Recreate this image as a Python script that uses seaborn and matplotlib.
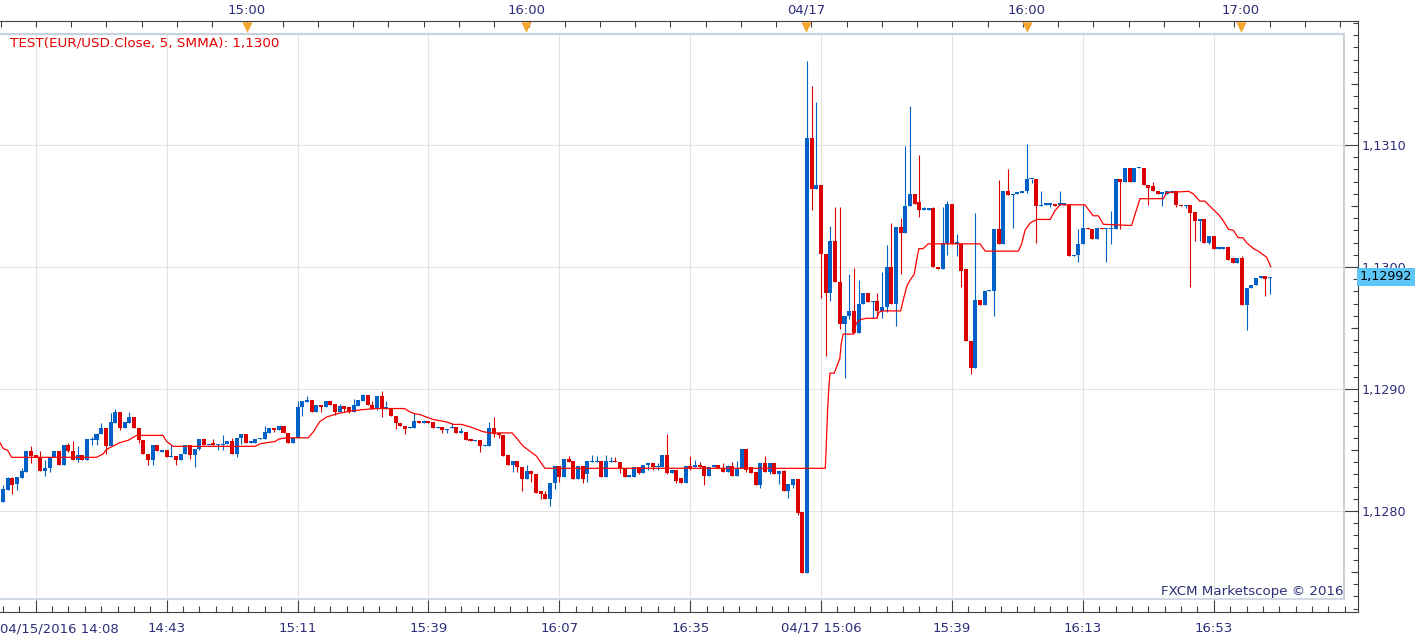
import numpy as np
import matplotlib
matplotlib.use("Agg")
import matplotlib.pyplot as plt
import matplotlib.transforms as mtransforms
import seaborn as sns

# ---- data (EUR/USD 1-minute bars) ----
opens = [
    1.12807, 1.12817, 1.12827, 1.12822, 1.12827, 1.12832, 1.12849, 1.12846, 1.12844, 1.12833,
    1.12835, 1.12844, 1.12849, 1.12838, 1.12854, 1.12849, 1.12842, 1.12846, 1.12842, 1.12858,
    1.12858, 1.12863, 1.12868, 1.12853, 1.12872, 1.12881, 1.12868, 1.12872, 1.12877, 1.12868,
    1.12858, 1.12847, 1.12842, 1.12854, 1.12848, 1.12850, 1.12844, 1.12845, 1.12842, 1.12847,
    1.12854, 1.12846, 1.12851, 1.12859, 1.12854, 1.12856, 1.12854, 1.12854, 1.12855, 1.12857,
    1.12847, 1.12860, 1.12863, 1.12856, 1.12856, 1.12859, 1.12859, 1.12864, 1.12868, 1.12866,
    1.12870, 1.12864, 1.12856, 1.12860, 1.12885, 1.12889, 1.12891, 1.12881, 1.12887, 1.12885,
    1.12890, 1.12888, 1.12881, 1.12886, 1.12885, 1.12881, 1.12886, 1.12890, 1.12895, 1.12887,
    1.12884, 1.12894, 1.12884, 1.12884, 1.12878, 1.12872, 1.12870, 1.12868, 1.12868, 1.12874,
    1.12872, 1.12874, 1.12873, 1.12868, 1.12869, 1.12866, 1.12868, 1.12869, 1.12864, 1.12865,
    1.12859, 1.12857, 1.12858, 1.12853, 1.12853, 1.12868, 1.12864, 1.12862, 1.12846, 1.12838,
    1.12841, 1.12836, 1.12826, 1.12833, 1.12830, 1.12816, 1.12814, 1.12810, 1.12823, 1.12837,
    1.12828, 1.12843, 1.12841, 1.12826, 1.12837, 1.12830, 1.12840, 1.12840, 1.12841, 1.12828,
    1.12840, 1.12841, 1.12840, 1.12835, 1.12828, 1.12828, 1.12836, 1.12831, 1.12838, 1.12839,
    1.12836, 1.12836, 1.12846, 1.12831, 1.12834, 1.12827, 1.12823, 1.12837, 1.12836, 1.12838,
    1.12837, 1.12829, 1.12836, 1.12838, 1.12835, 1.12832, 1.12837, 1.12829, 1.12835, 1.12851,
    1.12836, 1.12832, 1.12821, 1.12839, 1.12832, 1.12839, 1.12830, 1.12833, 1.12816, 1.12821,
    1.12826, 1.12799, 1.12749, 1.13106, 1.13064, 1.13067, 1.13011, 1.12979, 1.13021, 1.12988,
    1.12953, 1.12960, 1.12964, 1.12946, 1.12970, 1.12979, 1.12971, 1.12972, 1.12964, 1.12967,
    1.13000, 1.12970, 1.13033, 1.13028, 1.13050, 1.13060, 1.13053, 1.13047, 1.13047, 1.13048,
    1.13000, 1.12998, 1.13020, 1.13052, 1.13019, 1.13019, 1.12998, 1.12939, 1.12917, 1.12973,
    1.12969, 1.12980, 1.12980, 1.13031, 1.13019, 1.13062, 1.13059, 1.13060, 1.13061, 1.13062,
    1.13072, 1.13072, 1.13050, 1.13051, 1.13051, 1.13052, 1.13051, 1.13051, 1.13051, 1.13009,
    1.13010, 1.13019, 1.13032, 1.13031, 1.13023, 1.13032, 1.13031, 1.13031, 1.13031, 1.13072,
    1.13070, 1.13081, 1.13070, 1.13081, 1.13081, 1.13067, 1.13066, 1.13062, 1.13060, 1.13060,
    1.13061, 1.13062, 1.13051, 1.13050, 1.13051, 1.13045, 1.13038, 1.13039, 1.13020, 1.13025,
    1.13015, 1.13015, 1.13016, 1.13007, 1.13003, 1.13007, 1.12969, 1.12983, 1.12985, 1.12991,
    1.12993, 1.12991,
]
highs = [
    1.12821, 1.12828, 1.12828, 1.12828, 1.12835, 1.12849, 1.12853, 1.12846, 1.12849, 1.12842,
    1.12844, 1.12849, 1.12849, 1.12854, 1.12856, 1.12857, 1.12853, 1.12846, 1.12859, 1.12861,
    1.12864, 1.12872, 1.12868, 1.12880, 1.12884, 1.12881, 1.12873, 1.12881, 1.12877, 1.12868,
    1.12858, 1.12847, 1.12854, 1.12854, 1.12850, 1.12850, 1.12854, 1.12845, 1.12847, 1.12854,
    1.12854, 1.12851, 1.12859, 1.12859, 1.12855, 1.12859, 1.12855, 1.12862, 1.12857, 1.12860,
    1.12860, 1.12863, 1.12863, 1.12857, 1.12859, 1.12860, 1.12870, 1.12868, 1.12868, 1.12870,
    1.12870, 1.12864, 1.12860, 1.12890, 1.12890, 1.12894, 1.12891, 1.12887, 1.12887, 1.12890,
    1.12890, 1.12888, 1.12888, 1.12886, 1.12885, 1.12892, 1.12891, 1.12896, 1.12895, 1.12890,
    1.12894, 1.12898, 1.12890, 1.12884, 1.12878, 1.12872, 1.12870, 1.12869, 1.12880, 1.12874,
    1.12875, 1.12874, 1.12873, 1.12869, 1.12869, 1.12867, 1.12872, 1.12869, 1.12868, 1.12865,
    1.12859, 1.12858, 1.12858, 1.12854, 1.12873, 1.12877, 1.12864, 1.12862, 1.12846, 1.12841,
    1.12841, 1.12836, 1.12838, 1.12833, 1.12830, 1.12816, 1.12816, 1.12823, 1.12837, 1.12837,
    1.12843, 1.12845, 1.12841, 1.12837, 1.12837, 1.12841, 1.12846, 1.12845, 1.12841, 1.12846,
    1.12844, 1.12844, 1.12840, 1.12835, 1.12829, 1.12836, 1.12836, 1.12838, 1.12839, 1.12839,
    1.12839, 1.12846, 1.12863, 1.12834, 1.12834, 1.12827, 1.12837, 1.12845, 1.12842, 1.12840,
    1.12837, 1.12836, 1.12838, 1.12838, 1.12839, 1.12838, 1.12840, 1.12841, 1.12851, 1.12851,
    1.12836, 1.12832, 1.12839, 1.12845, 1.12839, 1.12839, 1.12833, 1.12834, 1.12822, 1.12826,
    1.12826, 1.12799, 1.13169, 1.13148, 1.13135, 1.13067, 1.13011, 1.13034, 1.13049, 1.13049,
    1.12960, 1.12994, 1.12999, 1.12989, 1.12979, 1.12979, 1.12972, 1.12979, 1.12996, 1.13018,
    1.13036, 1.13033, 1.13040, 1.13099, 1.13132, 1.13060, 1.13092, 1.13049, 1.13048, 1.13049,
    1.13000, 1.13049, 1.13054, 1.13052, 1.13027, 1.13019, 1.12998, 1.12939, 1.13044, 1.12973,
    1.12980, 1.12981, 1.13031, 1.13071, 1.13062, 1.13080, 1.13060, 1.13061, 1.13062, 1.13101,
    1.13072, 1.13072, 1.13062, 1.13052, 1.13052, 1.13052, 1.13062, 1.13052, 1.13051, 1.13010,
    1.13031, 1.13051, 1.13032, 1.13031, 1.13032, 1.13032, 1.13032, 1.13046, 1.13072, 1.13072,
    1.13081, 1.13081, 1.13081, 1.13082, 1.13081, 1.13067, 1.13070, 1.13062, 1.13061, 1.13062,
    1.13062, 1.13062, 1.13051, 1.13051, 1.13051, 1.13045, 1.13039, 1.13039, 1.13025, 1.13025,
    1.13016, 1.13016, 1.13016, 1.13007, 1.13007, 1.13009, 1.12983, 1.12985, 1.12991, 1.12993,
    1.12993, 1.12992,
]
lows = [
    1.12807, 1.12817, 1.12814, 1.12817, 1.12827, 1.12832, 1.12839, 1.12844, 1.12833, 1.12829,
    1.12832, 1.12844, 1.12838, 1.12838, 1.12848, 1.12842, 1.12840, 1.12842, 1.12842, 1.12854,
    1.12854, 1.12863, 1.12847, 1.12853, 1.12872, 1.12866, 1.12868, 1.12872, 1.12868, 1.12856,
    1.12847, 1.12838, 1.12838, 1.12849, 1.12848, 1.12844, 1.12844, 1.12838, 1.12842, 1.12847,
    1.12843, 1.12836, 1.12850, 1.12854, 1.12854, 1.12854, 1.12850, 1.12850, 1.12855, 1.12847,
    1.12844, 1.12855, 1.12856, 1.12856, 1.12856, 1.12859, 1.12859, 1.12864, 1.12865, 1.12866,
    1.12864, 1.12856, 1.12856, 1.12860, 1.12878, 1.12889, 1.12881, 1.12881, 1.12881, 1.12885,
    1.12887, 1.12879, 1.12881, 1.12881, 1.12880, 1.12881, 1.12886, 1.12890, 1.12887, 1.12884,
    1.12883, 1.12877, 1.12884, 1.12878, 1.12867, 1.12870, 1.12863, 1.12868, 1.12868, 1.12872,
    1.12872, 1.12872, 1.12868, 1.12868, 1.12864, 1.12864, 1.12868, 1.12864, 1.12864, 1.12858,
    1.12857, 1.12857, 1.12848, 1.12853, 1.12853, 1.12861, 1.12860, 1.12845, 1.12838, 1.12832,
    1.12832, 1.12816, 1.12826, 1.12824, 1.12815, 1.12810, 1.12810, 1.12804, 1.12818, 1.12824,
    1.12828, 1.12840, 1.12826, 1.12826, 1.12823, 1.12824, 1.12840, 1.12840, 1.12828, 1.12828,
    1.12840, 1.12840, 1.12831, 1.12828, 1.12828, 1.12828, 1.12830, 1.12831, 1.12834, 1.12834,
    1.12834, 1.12836, 1.12830, 1.12831, 1.12823, 1.12823, 1.12823, 1.12834, 1.12836, 1.12836,
    1.12821, 1.12829, 1.12836, 1.12835, 1.12832, 1.12832, 1.12829, 1.12829, 1.12835, 1.12832,
    1.12831, 1.12821, 1.12819, 1.12832, 1.12830, 1.12830, 1.12822, 1.12816, 1.12811, 1.12819,
    1.12797, 1.12749, 1.12749, 1.13047, 1.13064, 1.12975, 1.12927, 1.12972, 1.12988, 1.12949,
    1.12909, 1.12957, 1.12946, 1.12946, 1.12970, 1.12971, 1.12958, 1.12958, 1.12958, 1.12963,
    1.12970, 1.12952, 1.12994, 1.13028, 1.13050, 1.13052, 1.13041, 1.13047, 1.13047, 1.13000,
    1.12998, 1.12998, 1.13010, 1.13019, 1.13009, 1.12984, 1.12939, 1.12912, 1.12917, 1.12969,
    1.12969, 1.12980, 1.12960, 1.13019, 1.13019, 1.13059, 1.13032, 1.13060, 1.13061, 1.13061,
    1.13069, 1.13020, 1.13050, 1.13051, 1.13049, 1.13050, 1.13051, 1.13051, 1.13009, 1.13009,
    1.13004, 1.13019, 1.13031, 1.13023, 1.13023, 1.13031, 1.13004, 1.13019, 1.13031, 1.13031,
    1.13070, 1.13070, 1.13070, 1.13081, 1.13067, 1.13051, 1.13062, 1.13060, 1.13050, 1.13060,
    1.13061, 1.13049, 1.13050, 1.13048, 1.12984, 1.13021, 1.13021, 1.13020, 1.13019, 1.13015,
    1.13015, 1.13015, 1.13006, 1.13003, 1.13003, 1.12969, 1.12948, 1.12983, 1.12985, 1.12991,
    1.12976, 1.12978,
]
closes = [
    1.12818, 1.12827, 1.12821, 1.12828, 1.12833, 1.12849, 1.12845, 1.12844, 1.12833, 1.12835,
    1.12844, 1.12849, 1.12838, 1.12854, 1.12849, 1.12842, 1.12846, 1.12842, 1.12859, 1.12859,
    1.12863, 1.12868, 1.12853, 1.12873, 1.12881, 1.12868, 1.12873, 1.12877, 1.12868, 1.12858,
    1.12847, 1.12842, 1.12854, 1.12849, 1.12850, 1.12844, 1.12845, 1.12842, 1.12847, 1.12854,
    1.12846, 1.12851, 1.12859, 1.12854, 1.12855, 1.12854, 1.12855, 1.12855, 1.12857, 1.12847,
    1.12860, 1.12863, 1.12856, 1.12857, 1.12859, 1.12860, 1.12865, 1.12868, 1.12866, 1.12870,
    1.12864, 1.12856, 1.12860, 1.12885, 1.12890, 1.12891, 1.12881, 1.12887, 1.12885, 1.12890,
    1.12887, 1.12881, 1.12886, 1.12884, 1.12881, 1.12887, 1.12891, 1.12895, 1.12887, 1.12884,
    1.12894, 1.12884, 1.12885, 1.12878, 1.12872, 1.12870, 1.12867, 1.12869, 1.12874, 1.12872,
    1.12874, 1.12872, 1.12868, 1.12869, 1.12866, 1.12867, 1.12869, 1.12864, 1.12865, 1.12858,
    1.12857, 1.12858, 1.12853, 1.12854, 1.12868, 1.12863, 1.12862, 1.12845, 1.12838, 1.12841,
    1.12836, 1.12826, 1.12833, 1.12830, 1.12815, 1.12814, 1.12810, 1.12823, 1.12837, 1.12828,
    1.12843, 1.12840, 1.12826, 1.12837, 1.12826, 1.12841, 1.12841, 1.12841, 1.12828, 1.12841,
    1.12841, 1.12840, 1.12835, 1.12828, 1.12829, 1.12836, 1.12831, 1.12838, 1.12839, 1.12836,
    1.12837, 1.12846, 1.12831, 1.12834, 1.12825, 1.12823, 1.12837, 1.12835, 1.12838, 1.12836,
    1.12829, 1.12836, 1.12838, 1.12835, 1.12832, 1.12837, 1.12829, 1.12835, 1.12851, 1.12834,
    1.12831, 1.12821, 1.12839, 1.12832, 1.12839, 1.12830, 1.12833, 1.12816, 1.12822, 1.12826,
    1.12798, 1.12749, 1.13106, 1.13064, 1.13067, 1.13011, 1.12979, 1.13021, 1.12988, 1.12953,
    1.12960, 1.12964, 1.12946, 1.12970, 1.12979, 1.12971, 1.12972, 1.12964, 1.12967, 1.13000,
    1.12970, 1.13033, 1.13028, 1.13050, 1.13060, 1.13052, 1.13047, 1.13048, 1.13048, 1.13000,
    1.12998, 1.13020, 1.13052, 1.13019, 1.13020, 1.12997, 1.12939, 1.12917, 1.12973, 1.12969,
    1.12980, 1.12981, 1.13031, 1.13019, 1.13062, 1.13059, 1.13060, 1.13061, 1.13062, 1.13072,
    1.13072, 1.13050, 1.13051, 1.13052, 1.13052, 1.13050, 1.13052, 1.13052, 1.13009, 1.13010,
    1.13019, 1.13032, 1.13031, 1.13023, 1.13032, 1.13031, 1.13032, 1.13032, 1.13072, 1.13070,
    1.13081, 1.13070, 1.13081, 1.13082, 1.13067, 1.13065, 1.13062, 1.13060, 1.13061, 1.13062,
    1.13062, 1.13051, 1.13050, 1.13051, 1.13044, 1.13038, 1.13039, 1.13020, 1.13025, 1.13015,
    1.13016, 1.13016, 1.13006, 1.13003, 1.13007, 1.12969, 1.12983, 1.12985, 1.12991, 1.12993,
    1.12990, 1.12992,
]

# SMMA(5) indicator line, read at its bends (x = bar number)
smma_x = [-0.64, 0.07, 0.93, 1.85, 20.0, 21.5, 22.0, 22.9, 25.0, 26.8, 28.6, 34.2, 35.0, 36.4,
          53.9, 55.0, 56.4, 58.2, 59.0, 60.8, 65.3, 66.4, 67.7, 69.2, 71.7, 74.6, 76.7, 79.9,
          85.9, 86.7, 87.8, 89.2, 90.6, 92.0, 93.5, 94.9, 96.3, 98.1, 99.9, 101.3, 102.7, 104.2,
          108.9, 109.8, 111.3, 112.7, 114.1, 115.9, 175.9, 176.0, 176.2, 176.4, 176.7, 176.9,
          177.8, 178.5, 179.0, 179.3, 179.7, 182.0, 182.5, 183.5, 184.7, 186.9, 187.4, 188.1,
          192.0, 192.7, 193.4, 194.0, 194.9, 195.4, 195.9, 196.8, 197.9, 209.0, 210.1, 217.2,
          217.9, 218.6, 219.7, 221.1, 224.0, 225.0, 226.1, 231.4, 232.2, 233.2, 234.3, 235.4,
          241.4, 243.2, 248.2, 248.9, 253.6, 254.6, 256.0, 257.1, 258.9, 260.0, 261.0, 262.1,
          263.2, 264.2, 265.2, 266.0, 267.5, 268.5, 269.6, 270.3, 271.2]
smma_y = [1.12856, 1.12851, 1.12850, 1.12844, 1.12844, 1.12847, 1.12850, 1.12852, 1.12856,
          1.12858, 1.12862, 1.12862, 1.12857, 1.12853, 1.12853, 1.12855, 1.12856, 1.12857,
          1.12859, 1.12860, 1.12860, 1.12865, 1.12873, 1.12877, 1.12880, 1.12882, 1.12883,
          1.12884, 1.12884, 1.12882, 1.12880, 1.12879, 1.12877, 1.12875, 1.12874, 1.12873,
          1.12871, 1.12871, 1.12869, 1.12867, 1.12865, 1.12864, 1.12864, 1.12860, 1.12853,
          1.12849, 1.12845, 1.12835, 1.12835, 1.12844, 1.12864, 1.12884, 1.12904, 1.12913,
          1.12913, 1.12920, 1.12925, 1.12937, 1.12945, 1.12945, 1.12954, 1.12957, 1.12958,
          1.12958, 1.12963, 1.12964, 1.12964, 1.12975, 1.12985, 1.12989, 1.12994, 1.13005,
          1.13015, 1.13015, 1.13019, 1.13019, 1.13013, 1.13013, 1.13019, 1.13030, 1.13036,
          1.13039, 1.13039, 1.13046, 1.13051, 1.13051, 1.13047, 1.13042, 1.13042, 1.13035,
          1.13034, 1.13056, 1.13056, 1.13061, 1.13062, 1.13060, 1.13054, 1.13054, 1.13047,
          1.13043, 1.13038, 1.13031, 1.13030, 1.13024, 1.13024, 1.13020, 1.13015, 1.13013,
          1.13010, 1.13008, 1.13000]

# axis labels
bottom_tick_bars = [7, 35, 63, 91, 119, 147, 175, 203, 231, 259]
bottom_labels = ["", "14:43", "15:11", "15:39", "16:07", "16:35", "04/17 15:06",
                 "15:39", "16:13", "16:53"]
first_label = "04/15/2016 14:08"
top_tick_bars = [52.2, 111.9, 171.8, 219.0, 264.8]
top_labels = ["15:00", "16:00", "04/17", "16:00", "17:00"]
price_ticks = [1.1280, 1.1290, 1.1300, 1.1310]

assert len(opens) == len(highs) == len(lows) == len(closes) == 272

# ---- styling ----
sns.set_style("white")
plt.rcParams["font.family"] = ["DejaVu Sans"]

BLUE = "#0062C6"
RED = "#DD0000"
NAVY = "#2e2e78"
PANEL_EDGE = "#C8D2DF"
FRAME = "#404040"
TIME_FS = 9.5
PRICE_FS = 9.2

W, H = 1423, 642
fig = plt.figure(figsize=(W / 100, H / 100), dpi=100)


def box(x0, y0, x1, y1):
    return [x0 / W, 1 - y1 / H, (x1 - x0) / W, (y1 - y0) / H]


# pixel geometry of the original: 4.675 px per bar, first bar at 3 px
def px_to_bar(px):
    return (px - 3) / 4.675


def py_to_price(py):
    return 1.1300 + (267 - py) / 122000


def fmt_price(v, nd=4):
    return f"{v:.{nd}f}".replace(".", ",")


# outer frame carrying the time and price scales
FR_TOP, FR_BOT, FR_RIGHT = 21, 612, 1357.5
frame = fig.add_axes(box(0, FR_TOP, FR_RIGHT, FR_BOT))
frame.set_xlim(px_to_bar(0), px_to_bar(FR_RIGHT))
frame.set_ylim(py_to_price(FR_BOT), py_to_price(FR_TOP))
frame.set_facecolor("white")
frame.spines["left"].set_visible(False)
for s in ["top", "bottom", "right"]:
    frame.spines[s].set_color(FRAME)
    frame.spines[s].set_linewidth(0.8)

frame.xaxis.tick_bottom()
frame.set_xticks(bottom_tick_bars)
frame.set_xticklabels(bottom_labels)
frame.set_xticks(np.arange(0, 288, 3.5), minor=True)
frame.tick_params(axis="x", which="major", direction="in", length=8.6, width=0.8,
                  color=FRAME, labelsize=TIME_FS, labelcolor=NAVY, pad=7)
frame.tick_params(axis="x", which="minor", direction="in", length=4.3, width=0.8, color=FRAME)

frame.yaxis.tick_right()
frame.set_yticks(price_ticks)
frame.set_yticklabels([fmt_price(v) for v in price_ticks])
frame.set_yticks(np.arange(1.1272, 1.13205, 0.0001), minor=True)
frame.tick_params(axis="y", which="major", direction="in", length=10.3, width=0.8,
                  color=FRAME, labelsize=PRICE_FS, labelcolor=NAVY, pad=3)
frame.tick_params(axis="y", which="minor", direction="in", length=3.6, width=0.8, color=FRAME)
# half-level ticks are a bit longer
ytrans = mtransforms.blended_transform_factory(frame.transAxes, frame.transData)
frame.hlines([1.1275, 1.1285, 1.1295, 1.1305, 1.1315], 1 - 7 / FR_RIGHT, 1.0,
             transform=ytrans, color=FRAME, lw=0.8)

# top time scale
xtrans = frame.get_xaxis_transform()
fr_h = FR_BOT - FR_TOP
frame.vlines(np.arange(px_to_bar(0.7), px_to_bar(1345), 35.25 / 4.675), 1.0, 1 - 6 / fr_h,
             transform=xtrans, color=FRAME, lw=0.8)
frame.scatter(top_tick_bars, [1 - 6 / fr_h] * len(top_tick_bars), marker="v", s=55,
              color="#F4A52C", transform=xtrans, zorder=5, clip_on=False, linewidths=0)
for pos, lab in zip(top_tick_bars, top_labels):
    frame.text(pos, 1 + 11 / fr_h, lab, transform=xtrans, ha="center", va="center",
               fontsize=TIME_FS, color=NAVY)

fig.text(0.5 / W, 1 - 629 / H, first_label, ha="left", va="center", fontsize=TIME_FS,
         color=NAVY)

# current price marker
frame.text(1 + 2.5 / FR_RIGHT, closes[-1], fmt_price(closes[-1], 5), transform=ytrans,
           ha="left", va="center", fontsize=PRICE_FS, color="black", zorder=10, clip_on=False,
           bbox=dict(boxstyle="square,pad=0.2", fc="#5CC6F7", ec="none"))

# ---- main price panel ----
PTOP, PBOT, PRIGHT = 33.5, 599, 1343.5
ax = fig.add_axes(box(0, PTOP, PRIGHT, PBOT))
ax.set_xlim(px_to_bar(0), px_to_bar(PRIGHT))
ax.set_ylim(py_to_price(PBOT), py_to_price(PTOP))
ax.set_facecolor("white")
ax.set_xticks(bottom_tick_bars)
ax.set_yticks(price_ticks)
ax.grid(True, color="#E2E2E2", lw=0.8)
ax.tick_params(left=False, bottom=False, labelleft=False, labelbottom=False)
ax.spines["left"].set_visible(False)
ax.spines["top"].set_color(PANEL_EDGE)
ax.spines["top"].set_linewidth(1.6)
ax.spines["right"].set_color(PANEL_EDGE)
ax.spines["right"].set_linewidth(1.5)
ax.spines["bottom"].set_color(PANEL_EDGE)
ax.spines["bottom"].set_linewidth(1.2)

o = np.array(opens)
h = np.array(highs)
l = np.array(lows)
c = np.array(closes)
x = np.arange(len(o))
colors = np.where(c >= o, BLUE, RED)

ax.vlines(x, l, h, colors=colors, lw=0.8, zorder=2)
ax.bar(x, np.maximum(np.abs(c - o), 0.000012), bottom=np.minimum(o, c), width=0.86,
       color=colors, linewidth=0, zorder=3)

sns.lineplot(x=smma_x, y=smma_y, ax=ax, color="#FF0000", linewidth=0.9, estimator=None,
             sort=False, legend=False, zorder=4)
ax.set_xlabel("")
ax.set_ylabel("")

fig.text(10 / W, 1 - 43 / H, f"TEST(EUR/USD.Close, 5, SMMA): {fmt_price(smma_y[-1])}",
         ha="left", va="center", fontsize=9.7, color="#E80000")
fig.text(1161 / W, 1 - 592 / H, "FXCM Marketscope \u00a9 2016", ha="left", va="center",
         fontsize=9.6, color=NAVY)

fig.savefig("out.png", dpi=100)
